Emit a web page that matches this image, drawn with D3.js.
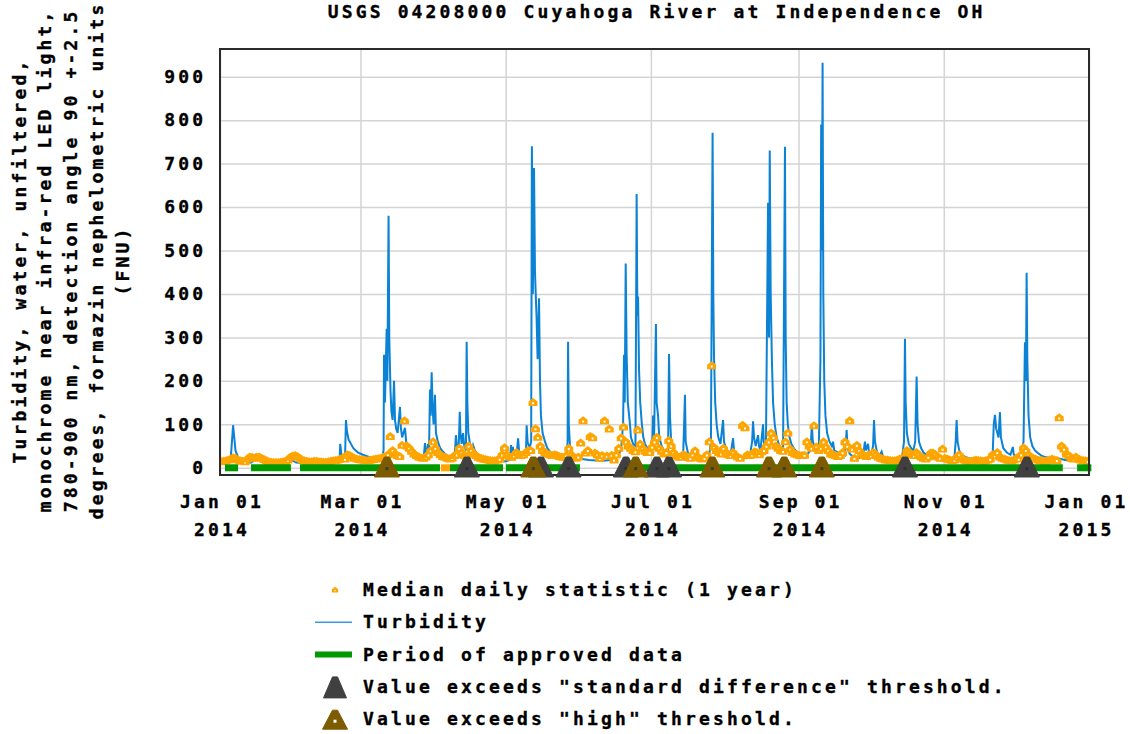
<!DOCTYPE html>
<html>
<head>
<meta charset="utf-8">
<script src="https://cdn.jsdelivr.net/npm/d3@7"></script>
<style>
    body { margin: 0; background: #fff; }
    text { font-family: "DejaVu Sans Mono", monospace; font-weight: bold; font-size: 18px; letter-spacing: 3.16px; fill: #000; stroke: #000; stroke-width: 0.35px; }
</style>
</head>
<body>
<div id="chart"></div>
<script>

const title = "USGS 04208000 Cuyahoga River at Independence OH";
const yLabelLines = [
    "Turbidity, water, unfiltered,",
    "monochrome near infra-red LED light,",
    "780-900 nm, detection angle 90 +-2.5",
    "degrees, formazin nephelometric units",
    "(FNU)"
];

const yTicks = [0, 100, 200, 300, 400, 500, 600, 700, 800, 900];
// months (0 based) that get a tick, 12 = Jan of next year
const xTickMonths = [0, 2, 4, 6, 8, 10, 12];
const monthNames = ["Jan", "Feb", "Mar", "Apr", "May", "Jun", "Jul", "Aug", "Sep", "Oct", "Nov", "Dec"];

// turbidity, [day of 2014, FNU]
const turbidity = [
    [0, 12], [2, 14], [4.5, 20], [5.5, 98], [5.9, 75], [6.5, 40], [7.5, 25], [9, 18], [11, 14], [13, 12],
    [14.5, 18], [15.2, 30], [16, 28], [17, 22], [19, 16], [22, 12], [26, 10], [29, 14], [30, 18], [32, 12],
    [36, 10], [40, 9], [45, 10], [49, 12],
    [50.2, 15], [50.5, 55], [51, 30], [52.5, 20], [52.9, 110], [53.3, 85], [54, 65], [55, 55], [56, 45], [57, 40],
    [58, 35], [60, 30], [62, 26], [64, 22], [66, 20], [68, 22],
    [68.7, 40], [68.9, 260], [69.3, 150], [70, 320], [70.3, 200], [70.8, 580], [71.1, 300], [71.6, 180], [72, 130],
    [72.5, 110], [73.1, 200], [73.5, 110], [74, 90], [74.6, 80], [75.6, 140], [76, 90], [76.5, 70], [77.7, 92],
    [78.2, 60], [79, 45], [80, 38], [81, 32], [82, 28], [83, 25], [84, 22], [85.5, 20], [86.1, 57], [86.5, 40],
    [87, 30], [87.4, 55], [87.8, 40], [88.2, 180], [88.5, 120], [88.9, 220], [89.3, 140], [89.7, 100], [90.3, 168],
    [90.7, 80], [91.5, 60], [92.5, 45], [93.5, 38], [94.5, 32], [95.5, 28], [97, 24], [98.5, 22],
    [99.1, 75], [99.5, 50], [100.2, 35], [100.7, 129], [101, 80], [101.5, 55], [102.1, 80], [102.6, 50], [103.3, 40],
    [103.6, 290], [103.9, 150], [104.3, 80], [105, 55], [106, 45], [106.3, 52], [107, 40], [108, 32], [109, 28],
    [110, 24], [112, 20], [114, 18], [116, 16], [118, 15], [120, 15], [121.8, 18], [122.2, 52], [122.6, 35],
    [123, 48], [123.5, 30], [124.5, 25], [125.2, 68], [125.6, 40], [126.5, 30], [127.5, 25], [128.5, 30],
    [128.8, 98], [129.2, 60], [130, 45], [130.7, 60],
    [131, 740], [131.4, 400], [131.9, 690], [132.3, 450], [133, 340], [133.4, 250], [134, 390], [134.4, 200],
    [134.8, 120], [135.5, 80], [136.5, 60], [137.5, 45], [138.5, 38], [139.5, 32], [140.5, 28], [141.5, 34],
    [142.5, 25], [144, 22], [145.5, 20], [146, 60], [146.2, 290], [146.5, 100], [147, 50], [148, 35], [149, 28],
    [150, 24], [152, 20], [155, 18], [158, 17], [161, 16], [164, 18], [166, 22], [167.5, 30], [168.5, 45],
    [169.3, 100], [169.7, 260], [170, 150], [170.4, 470], [170.8, 260], [171.3, 150], [172.2, 100], [172.6, 70],
    [173.5, 55], [174.5, 50], [175, 630], [175.3, 350], [175.6, 394], [176, 227], [176.5, 150], [177.2, 100],
    [177.8, 70], [178.5, 55], [179.5, 45], [180.5, 40], [181.5, 35], [181.9, 120], [182.3, 60], [183.1, 331],
    [183.4, 150], [184, 120], [184.5, 70], [185.5, 50], [186.5, 40], [187.5, 35], [188.2, 40], [188.6, 262],
    [189, 120], [189.5, 60], [190.5, 40], [191.5, 30], [193, 25], [194.5, 22], [195.3, 168], [195.6, 60],
    [196.5, 35], [198, 25], [200, 22], [202, 20], [204, 22], [205.5, 30], [206.2, 60], [206.9, 771], [207.2, 400],
    [207.5, 256], [208, 150], [208.6, 100], [209.3, 70], [210.2, 55], [211.3, 110], [211.7, 60], [212.5, 45],
    [213.5, 38], [214.5, 32], [215.5, 68], [215.9, 40], [217, 30], [219, 25], [221, 22], [222.5, 25], [223.5, 60],
    [223.9, 107], [224.3, 70], [225, 50], [226, 75], [226.4, 50], [227, 40], [228.1, 100], [228.4, 60], [229.3, 45],
    [230.2, 610], [230.6, 300], [230.9, 730], [231.3, 400], [231.8, 250], [232.3, 150], [233, 100], [233.8, 70],
    [234.7, 55], [235.6, 45], [236.5, 40], [237.3, 739], [237.6, 300], [238, 150], [238.5, 100], [239.2, 70],
    [240, 55], [241, 45], [242, 38], [243.5, 32], [245, 28], [246.5, 30], [248, 40], [248.6, 98], [249, 60],
    [250, 45], [251.5, 40], [252.2, 250], [252.5, 790], [252.8, 500], [253.1, 932], [253.4, 400], [253.8, 200],
    [254.3, 120], [255, 80], [256, 60], [257, 50], [257.5, 60], [258, 40], [259.5, 35], [261, 30], [262.5, 28],
    [263.2, 87], [263.6, 45], [264.5, 32], [266, 25], [268, 22], [270, 25], [270.9, 60], [271.3, 40], [272.2, 55],
    [272.6, 35], [273.5, 30], [274.3, 50], [274.7, 110], [275.1, 60], [276, 35], [277.2, 30], [277.9, 37],
    [278.5, 25], [281, 20], [284, 18], [286.5, 25], [287.3, 60], [287.7, 297], [288, 150], [288.5, 80], [289.3, 55],
    [290.3, 45], [291.2, 40], [292, 60], [292.6, 210], [293, 100], [293.6, 60], [294.5, 45], [295.5, 35], [297, 28],
    [300, 22], [303, 20], [306, 18], [308.5, 25], [309, 60], [309.4, 110], [309.8, 60], [310.5, 40], [311.5, 30],
    [313, 25], [316, 20], [320, 18], [323, 17], [324.5, 25], [325, 100], [325.5, 122], [326, 90], [327, 70],
    [327.6, 128], [328, 70], [329, 45], [330.5, 35], [332, 30], [333, 48], [333.4, 30], [335, 25], [336.5, 30],
    [337.5, 60], [338.1, 289], [338.5, 200], [338.8, 449], [339.1, 250], [339.6, 120], [340.3, 70], [341.2, 50],
    [342.3, 40], [343.5, 34], [345, 28], [347, 24], [349, 22], [351, 20], [352, 22], [355, 18], [358, 16],
    [361, 15], [363, 14], [365, 13]
];

// one value per day of 2014
const medianDaily = [
    14, 15, 16, 18, 20, 23, 22, 18, 16, 15,
    14, 20, 25, 24, 22, 24, 25, 22, 19, 16,
    14, 13, 12, 12, 12, 13, 14, 15, 18, 24,
    27, 28, 26, 22, 18, 16, 15, 14, 14, 15,
    15, 14, 14, 13, 13, 14, 15, 16, 17, 18,
    20, 22, 20, 30, 28, 25, 22, 20, 19, 18,
    18, 17, 17, 18, 19, 20, 21, 22, 24, 26,
    30, 72, 40, 32, 28, 26, 52, 108, 50, 45,
    38, 32, 28, 25, 23, 22, 25, 30, 40, 60,
    45, 35, 30, 26, 24, 22, 20, 22, 28, 30,
    45, 35, 28, 25, 50, 40, 32, 28, 24, 22,
    20, 19, 18, 17, 16, 16, 18, 20, 30, 46,
    30, 25, 24, 28, 35, 30, 28, 30, 35, 40,
    40, 150, 90, 70, 50, 40, 35, 32, 30, 28,
    30, 28, 26, 25, 24, 28, 45, 30, 25, 22,
    25, 57, 108, 34, 40, 72, 69, 34, 30, 22,
    28, 108, 27, 89, 29, 18, 30, 45, 69, 94,
    60, 50, 45, 40, 37, 87, 55, 45, 38, 35,
    35, 48, 60, 70, 45, 38, 32, 35, 63, 51,
    35, 28, 25, 24, 30, 28, 24, 22, 30, 39,
    25, 22, 20, 22, 30, 60, 235, 47, 40, 35,
    32, 45, 35, 30, 28, 35, 28, 25, 22, 98,
    92, 30, 28, 30, 37, 35, 30, 37, 40, 50,
    60, 80, 70, 50, 45, 40, 38, 60, 80, 43,
    35, 32, 30, 28, 28, 29, 60, 50, 45, 97,
    48, 40, 45, 60, 48, 40, 32, 30, 28, 26,
    28, 35, 60, 50, 108, 43, 22, 52, 40, 32,
    28, 26, 30, 28, 35, 30, 25, 22, 20, 18,
    18, 17, 16, 16, 18, 20, 22, 25, 40, 35,
    30, 28, 35, 30, 25, 22, 20, 25, 34, 34,
    30, 25, 22, 43, 22, 20, 18, 17, 18, 25,
    30, 22, 18, 16, 15, 15, 16, 18, 17, 16,
    15, 16, 18, 20, 30, 28, 35, 25, 22, 20,
    18, 17, 16, 18, 22, 20, 30, 46, 40, 30,
    25, 22, 20, 18, 17, 16, 15, 16, 18, 20,
    18, 17, 115, 50, 43, 32, 28, 22, 20, 25,
    20, 18, 17, 16, 15
];

// [start day, end day]
const approvedPeriods = [[2.1, 7.6], [13, 29.8], [33.6, 92.4], [96.6, 118.9], [120.1, 151.2], [168, 354], [360, 366]];
const otherPeriods = [[92.8, 96.6]];

// days with threshold flags
const stdDiffDays = [103.7, 134.8, 146.4, 170.5, 183.5, 188.6, 287.7, 338.9];
const highDays = [70.1, 131.6, 174.6, 206.8, 230.6, 237, 252.8];

const legendItems = [
    { key: "median", label: "Median daily statistic (1 year)" },
    { key: "line", label: "Turbidity" },
    { key: "approved", label: "Period of approved data" },
    { key: "stddiff", label: "Value exceeds \"standard difference\" threshold." },
    { key: "high", label: "Value exceeds \"high\" threshold." }
];

const colors = {
    line: "#0b82d4",
    median: "#ffa500",
    approved: "#009a00",
    stddiff: "#404040",
    high: "#7d5c00",
    grid: "#d4d4d4"
};

const width = 1130;
const height = 734;
const plot = { left: 220, right: 1089, top: 49, bottom: 475 };
const ls = 3.16; // letter spacing, trailing space shifts anchored text

const t0 = Date.UTC(2014, 0, 1);
const dayToDate = (d) => new Date(t0 + d * 864e5);

const x = d3.scaleUtc([dayToDate(0), dayToDate(365)], [plot.left, plot.right]);
const y = d3.scaleLinear([-16.6, 963.7], [plot.bottom, plot.top]);

const svg = d3.select("#chart")
    .append("svg")
    .attr("width", width)
    .attr("height", height)
    .attr("viewBox", [0, 0, width, height]);

svg.append("defs").append("clipPath")
    .attr("id", "plotClip")
    .append("rect")
    .attr("x", plot.left)
    .attr("y", plot.top)
    .attr("width", plot.right - plot.left)
    .attr("height", plot.bottom - plot.top);

// title
svg.append("text")
    .attr("x", 655 + ls / 2)
    .attr("y", 18)
    .attr("text-anchor", "middle")
    .text(title);

// y axis + horizontal grid
svg.append("g")
    .attr("transform", `translate(${plot.left},0)`)
    .call(d3.axisLeft(y)
        .tickValues(yTicks)
        .tickSize(-(plot.right - plot.left))
        .tickPadding(17 - ls))
    .call(g => g.select(".domain").remove())
    .call(g => g.selectAll(".tick line").attr("stroke", colors.grid).attr("stroke-width", 1.5))
    .call(g => g.selectAll(".tick text").attr("font-size", null).attr("font-family", null));

// x axis + vertical grid
const xTickDates = xTickMonths.map(m => new Date(Date.UTC(2014, m, 1)));
svg.append("g")
    .attr("transform", `translate(0,${plot.bottom})`)
    .call(d3.axisBottom(x)
        .tickValues(xTickDates)
        .tickSize(-(plot.bottom - plot.top))
        .tickFormat(""))
    .call(g => g.select(".domain").remove())
    .call(g => g.selectAll(".tick line").attr("stroke", colors.grid).attr("stroke-width", 1.5))
    .call(g => g.selectAll(".tick").each(function (d, i, nodes) {
        // last label sits at the right edge, nudge it in
        const dx = i === nodes.length - 1 ? -3 : ls / 2;
        const t = d3.select(this).append("text")
            .attr("text-anchor", "middle")
            .attr("x", dx);
        t.append("tspan").attr("x", dx).attr("y", 33)
            .text(`${monthNames[d.getUTCMonth()]} 01`);
        t.append("tspan").attr("x", dx).attr("y", 61)
            .text(d.getUTCFullYear());
    }));

// y axis title
const yTitle = svg.append("text")
    .attr("text-anchor", "middle")
    .attr("transform", "translate(0,262) rotate(-90)");
yLabelLines.forEach((line, i) => {
    yTitle.append("tspan")
        .attr("x", ls / 2)
        .attr("y", 25.5 + i * 25.8)
        .text(line);
});

const plotG = svg.append("g").attr("clip-path", "url(#plotClip)");

// turbidity series
const line = d3.line()
    .x(d => x(dayToDate(d[0])))
    .y(d => y(d[1]));

plotG.append("path")
    .datum(turbidity)
    .attr("fill", "none")
    .attr("stroke", colors.line)
    .attr("stroke-width", 2)
    .attr("stroke-linejoin", "miter")
    .attr("d", line);

// median markers
const houseMarker = "M0,-4.5L4.5,-1L4.5,3.5L-4.5,3.5L-4.5,-1Z";
const MedianMarker = (g, scale) => {
    g.append("path").attr("d", houseMarker).attr("fill", colors.median)
        .attr("transform", `scale(${scale})`);
    g.append("rect").attr("x", -1 * scale).attr("y", -0.3 * scale)
        .attr("width", 2 * scale).attr("height", 2 * scale).attr("fill", "#fff");
};

plotG.append("g")
    .selectAll("g")
    .data(medianDaily)
    .join("g")
    .attr("transform", (d, i) => `translate(${x(dayToDate(i + 0.5))},${y(d)})`)
    .each(function () { MedianMarker(d3.select(this), 1); });

// approval periods
svg.append("g")
    .selectAll("line")
    .data(approvedPeriods.map(p => ({ p, c: colors.approved })).concat(otherPeriods.map(p => ({ p, c: colors.median }))))
    .join("line")
    .attr("x1", d => x(dayToDate(d.p[0])))
    .attr("x2", d => x(dayToDate(d.p[1])))
    .attr("y1", y(0))
    .attr("y2", y(0))
    .attr("stroke", d => d.c)
    .attr("stroke-width", 7);

// plot border
svg.append("rect")
    .attr("x", plot.left)
    .attr("y", plot.top)
    .attr("width", plot.right - plot.left)
    .attr("height", plot.bottom - plot.top)
    .attr("fill", "none")
    .attr("stroke", "#2a2a2a")
    .attr("stroke-width", 2);

// threshold triangles
const triPath = (w, h) => `M${-w / 2},0L${-2.5},${-h}L${2.5},${-h}L${w / 2},0Z`;
const FlagTriangle = (g, color, dotColor, w, h) => {
    g.append("path").attr("d", triPath(w, h)).attr("fill", color)
        .attr("stroke", color).attr("stroke-width", 1).attr("stroke-linejoin", "round");
    g.append("rect").attr("x", -1.5).attr("y", -h * 0.42 - 1.5)
        .attr("width", 3).attr("height", 3).attr("fill", dotColor);
};

svg.append("g")
    .selectAll("g")
    .data(stdDiffDays)
    .join("g")
    .attr("transform", d => `translate(${x(dayToDate(d))},477)`)
    .each(function () { FlagTriangle(d3.select(this), colors.stddiff, "#303030", 25, 20); });

svg.append("g")
    .selectAll("g")
    .data(highDays)
    .join("g")
    .attr("transform", d => `translate(${x(dayToDate(d))},477)`)
    .each(function () { FlagTriangle(d3.select(this), colors.high, "#3a3a3a", 25, 20); });

// legend
const legend = svg.append("g");
legendItems.forEach((item, i) => {
    const cy = 590 + i * 32.3;
    const g = legend.append("g").attr("transform", `translate(335,${cy})`);
    if (item.key === "median") {
        MedianMarker(g, 0.7);
    } else if (item.key === "line") {
        g.append("line").attr("x1", -20).attr("x2", 17).attr("stroke", "#3a9ad9").attr("stroke-width", 1.6);
    } else if (item.key === "approved") {
        g.append("line").attr("x1", -20).attr("x2", 17).attr("stroke", colors.approved).attr("stroke-width", 6);
    } else if (item.key === "stddiff") {
        g.attr("transform", `translate(335,${cy + 11})`);
        FlagTriangle(g, colors.stddiff, colors.stddiff, 23, 21);
    } else {
        g.attr("transform", `translate(335,${cy + 10})`);
        FlagTriangle(g, colors.high, "#fff", 25, 19);
    }
    legend.append("text")
        .attr("x", 363)
        .attr("y", cy + 6)
        .text(item.label);
});

</script>
</body>
</html>
